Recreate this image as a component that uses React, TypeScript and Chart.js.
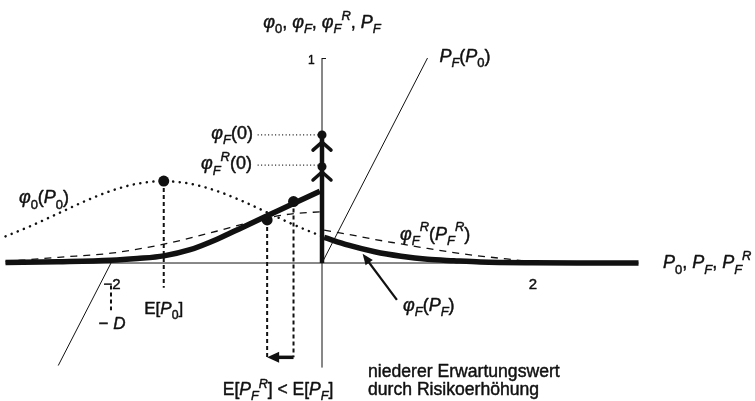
import React, { useEffect, useRef } from 'react';
import { Chart, registerables } from 'chart.js';
Chart.register(...registerables);

// ---- data ----
const phi0X = [-3, -2.75, -2.5, -2.25, -2, -1.75, -1.5, -1.25, -1, -0.75, -0.5, -0.25, 0];
const phi0Y = [0.13, 0.183, 0.242, 0.301, 0.352, 0.387, 0.399, 0.387, 0.352, 0.301, 0.242, 0.183, 0.13];

const phiFLeftX = [-3, -2.5, -2, -1.75, -1.5, -1.25, -1, -0.75, -0.5, -0.25, -0.02];
const phiFLeftY = [0.002, 0.006, 0.013, 0.022, 0.035, 0.065, 0.115, 0.175, 0.235, 0.295, 0.35];
const phiFRightX = [0.02, 0.25, 0.5, 0.75, 1, 1.25, 1.5, 2, 2.5, 3];
const phiFRightY = [0.125, 0.087, 0.055, 0.033, 0.018, 0.011, 0.005, 0.001, 0, 0];

const phiFRLeftX = [-3, -2.5, -2, -1.5, -1, -0.75, -0.5, -0.25, 0];
const phiFRLeftY = [0.008, 0.028, 0.048, 0.092, 0.155, 0.19, 0.222, 0.242, 0.25];
const phiFRRightX = [0.02, 0.25, 0.5, 0.75, 1, 1.25, 1.5, 1.75, 2];
const phiFRRightY = [0.16, 0.14, 0.115, 0.093, 0.071, 0.051, 0.034, 0.02, 0.006];

const spikeTop = 0.625;       // φF(0)
const spikeTopR = 0.47;       // φF^R(0)

const ePoints = [
  { name: 'E[P0]', x: -1.5, y: 0.4 },
  { name: 'E[PF]', x: -0.27, y: 0.3 },
  { name: 'E[PFR]', x: -0.52, y: 0.21 },
];
const negD = -2;
const yTicks = [1];

const pfRight = [{ x: 0, y: 0 }, { x: 1, y: 1 }];
const pfLeft = [{ x: -2, y: 0 }, { x: -2.5, y: -0.5 }];

const labels = [
  { x: 0, y: 1.178, a: 'center', s: 18, t: '*φ*_0, *φ_F*, *φ_F^R*, *P_F*' },
  { x: -0.07, y: 0.99, a: 'right', s: 12, t: '1' },
  { x: 1.355, y: 1.01, a: 'center', s: 18, t: '*P_F*(*P*_0)' },
  { x: -2.635, y: 0.322, a: 'center', s: 18, t: '*φ*_0(*P*_0)' },
  { x: -0.654, y: 0.639, a: 'right', s: 18, t: '*φ_F*(0)' },
  { x: -0.664, y: 0.488, a: 'right', s: 18, t: '*φ_F^R*(0)' },
  { x: 0.739, y: 0.146, a: 'left', s: 18, t: '*φ_F^R*(*P_F^R*)' },
  { x: 3.232, y: 0.005, a: 'left', s: 18, t: '*P*_0, *P_F*, *P_F^R*' },
  { x: 2, y: -0.098, a: 'center', s: 15, t: '2' },
  { x: -1.99, y: -0.098, a: 'center', s: 15, t: '−2' },
  { x: -1.5, y: -0.22, a: 'center', s: 17, t: 'E[*P*_0]' },
  { x: -1.99, y: -0.293, a: 'center', s: 17, t: '− *D*' },
  { x: -0.417, y: -0.615, a: 'center', s: 17.5, t: 'E[*P_F^R*] < E[*P_F*]' },
  { x: 0.436, y: -0.527, a: 'left', s: 17.6, t: 'niederer Erwartungswert' },
  { x: 0.436, y: -0.615, a: 'left', s: 17.6, t: 'durch Risikoerhöhung' },
  { x: 0.768, y: -0.2, a: 'left', s: 18, t: '*φ_F*(*P_F*)' },
];

const xy = (xs: number[], ys: number[]) => xs.map((x, i) => ({ x, y: ys[i] }));
const INK = '#111';
const FONT = '"Liberation Sans", Arial, sans-serif';

type Seg = { t: string; it: boolean; m: number };
function parse(str: string): Seg[] {
  const out: Seg[] = [];
  let it = false;
  let mode = 0;
  for (const ch of Array.from(str)) {
    if (ch === '*') { it = !it; continue; }
    if (ch === '_') { mode = 1; continue; }
    if (ch === '^') { mode = 2; continue; }
    const last = out[out.length - 1];
    if (last && last.it === it && last.m === mode) last.t += ch;
    else out.push({ t: ch, it, m: mode });
    mode = 0;
  }
  return out;
}
function segFont(sg: Seg, size: number) {
  const s = sg.m ? size * 0.72 : size;
  return `${sg.it ? 'italic ' : ''}${s}px ${FONT}`;
}
function drawRich(ctx: CanvasRenderingContext2D, str: string, x: number, y: number, size: number, align: string) {
  const segs = parse(str);
  const ws = segs.map((sg) => { ctx.font = segFont(sg, size); return ctx.measureText(sg.t).width; });
  const total = ws.reduce((a, b) => a + b, 0);
  let cx = align === 'center' ? x - total / 2 : align === 'right' ? x - total : x;
  const base = y + size * 0.36;
  ctx.textBaseline = 'alphabetic';
  ctx.textAlign = 'left';
  ctx.lineWidth = 0.45;
  ctx.lineJoin = 'round';
  segs.forEach((sg, i) => {
    ctx.font = segFont(sg, size);
    const dy = sg.m === 1 ? size * 0.28 : sg.m === 2 ? -size * 0.45 : 0;
    ctx.fillText(sg.t, cx, base + dy);
    ctx.strokeText(sg.t, cx, base + dy);
    cx += ws[i];
  });
}
function arrowHead(ctx: CanvasRenderingContext2D, tx: number, ty: number, fx: number, fy: number, len: number, half: number) {
  const ang = Math.atan2(ty - fy, tx - fx);
  ctx.beginPath();
  ctx.moveTo(tx, ty);
  ctx.lineTo(tx - len * Math.cos(ang) + half * Math.sin(ang), ty - len * Math.sin(ang) - half * Math.cos(ang));
  ctx.lineTo(tx - len * Math.cos(ang) - half * Math.sin(ang), ty - len * Math.sin(ang) + half * Math.cos(ang));
  ctx.closePath();
  ctx.fill();
}

const overlay = {
  id: 'overlay',
  afterDatasetsDraw(chart: any) {
    const ctx: CanvasRenderingContext2D = chart.ctx;
    const sx = chart.scales.x, sy = chart.scales.y;
    const px = (v: number) => sx.getPixelForValue(v);
    const py = (v: number) => sy.getPixelForValue(v);
    ctx.save();
    ctx.fillStyle = INK;
    ctx.strokeStyle = INK;
    // chevrons on the spike
    ctx.lineWidth = 3.5;
    ctx.lineCap = 'round';
    [0.59, 0.444].forEach((v) => {
      const ax = px(0), ay = py(v);
      ctx.beginPath();
      ctx.moveTo(ax - 9, ay + 8);
      ctx.lineTo(ax, ay);
      ctx.lineTo(ax + 9, ay + 8);
      ctx.stroke();
    });
    // arrow heads
    const ar = ePoints[2], ab = ePoints[1];
    arrowHead(ctx, px(ar.x), py(-0.46), px(ab.x), py(-0.46), 12, 5.5);
    arrowHead(ctx, px(0.385), py(0.045), px(0.71), py(-0.18), 11, 4.5);
    // y tick
    ctx.lineWidth = 1;
    ctx.lineCap = 'butt';
    yTicks.forEach((v) => {
      ctx.beginPath();
      ctx.moveTo(px(0), py(v) + 0.5);
      ctx.lineTo(px(0) + 4, py(v) + 0.5);
      ctx.stroke();
    });
    // labels
    labels.forEach((l) => drawRich(ctx, l.t, px(l.x), py(l.y), l.s, l.a));
    ctx.restore();
  },
};

export default function App() {
  const ref = useRef<HTMLCanvasElement>(null);
  useEffect(() => {
    if (!ref.current) return;
    const thin = { borderColor: INK, borderWidth: 1, pointRadius: 0, fill: false };
    const dropStyle = { borderColor: INK, borderWidth: 2, borderDash: [4, 3], pointRadius: 0, fill: false };
    const datasets: any[] = [
      { ...thin, data: [{ x: -3, y: 0 }, { x: 3, y: 0 }] },
      { ...thin, data: [{ x: 0, y: -0.51 }, { x: 0, y: 1 }] },
      { ...thin, data: pfRight },
      { ...thin, data: pfLeft },
      { ...thin, borderWidth: 1.2, borderDash: [1, 2.5], data: [{ x: -0.61, y: spikeTop }, { x: -0.04, y: spikeTop }] },
      { ...thin, borderWidth: 1.2, borderDash: [1, 2.5], data: [{ x: -0.61, y: 0.478 }, { x: -0.04, y: 0.478 }] },
      { ...dropStyle, data: [{ x: ePoints[0].x, y: ePoints[0].y }, { x: ePoints[0].x, y: -0.12 }] },
      { ...dropStyle, data: [{ x: negD, y: -0.11 }, { x: negD, y: -0.23 }] },
      { ...dropStyle, data: [{ x: ePoints[1].x, y: ePoints[1].y }, { x: ePoints[1].x, y: -0.46 }] },
      { ...dropStyle, data: [{ x: ePoints[2].x, y: ePoints[2].y }, { x: ePoints[2].x, y: -0.46 }] },
      { ...thin, borderWidth: 3.5, data: [{ x: ePoints[1].x, y: -0.46 }, { x: ePoints[2].x + 0.06, y: -0.46 }] },
      { ...thin, borderWidth: 2.2, data: [{ x: 0.71, y: -0.18 }, { x: 0.41, y: 0.027 }] },
      { ...thin, borderWidth: 2.5, borderDash: [0.1, 6.5], borderCapStyle: 'round', cubicInterpolationMode: 'monotone', data: xy(phi0X, phi0Y) },
      { ...thin, borderWidth: 1.3, borderDash: [7, 6], cubicInterpolationMode: 'monotone', data: xy(phiFRLeftX, phiFRLeftY) },
      { ...thin, borderWidth: 1.3, borderDash: [7, 6], cubicInterpolationMode: 'monotone', data: xy(phiFRRightX, phiFRRightY) },
      { ...thin, borderWidth: 5.5, cubicInterpolationMode: 'monotone', data: xy(phiFLeftX, phiFLeftY) },
      { ...thin, borderWidth: 5.5, cubicInterpolationMode: 'monotone', data: xy(phiFRightX, phiFRightY) },
      { ...thin, borderWidth: 4.5, data: [{ x: 0, y: 0 }, { x: 0, y: spikeTop }] },
      {
        type: 'scatter', showLine: false, data: ePoints.map((p) => ({ x: p.x, y: p.y })),
        pointRadius: 5.5, backgroundColor: INK, borderColor: INK, borderWidth: 0,
      },
      {
        type: 'scatter', showLine: false, data: [{ x: 0, y: spikeTop }, { x: 0, y: spikeTopR }],
        pointRadius: 4.5, backgroundColor: INK, borderColor: INK, borderWidth: 0,
      },
    ];
    const chart = new Chart(ref.current, {
      type: 'line',
      data: { datasets },
      options: {
        animation: false,
        responsive: false,
        devicePixelRatio: 1,
        layout: { padding: 0, autoPadding: false } as any,
        plugins: { legend: { display: false }, tooltip: { enabled: false } },
        events: [],
        scales: {
          x: { type: 'linear', min: -3.052, max: 4.104, display: false },
          y: { type: 'linear', min: -0.673, max: 1.283, display: false },
        },
      },
      plugins: [overlay],
    } as any);
    return () => chart.destroy();
  }, []);
  return (
    <div style={{ position: 'fixed', left: 0, top: 0, width: 755, height: 401, background: '#fff' }}>
      <canvas ref={ref} width={755} height={401} style={{ display: 'block', width: 755, height: 401 }} />
    </div>
  );
}
